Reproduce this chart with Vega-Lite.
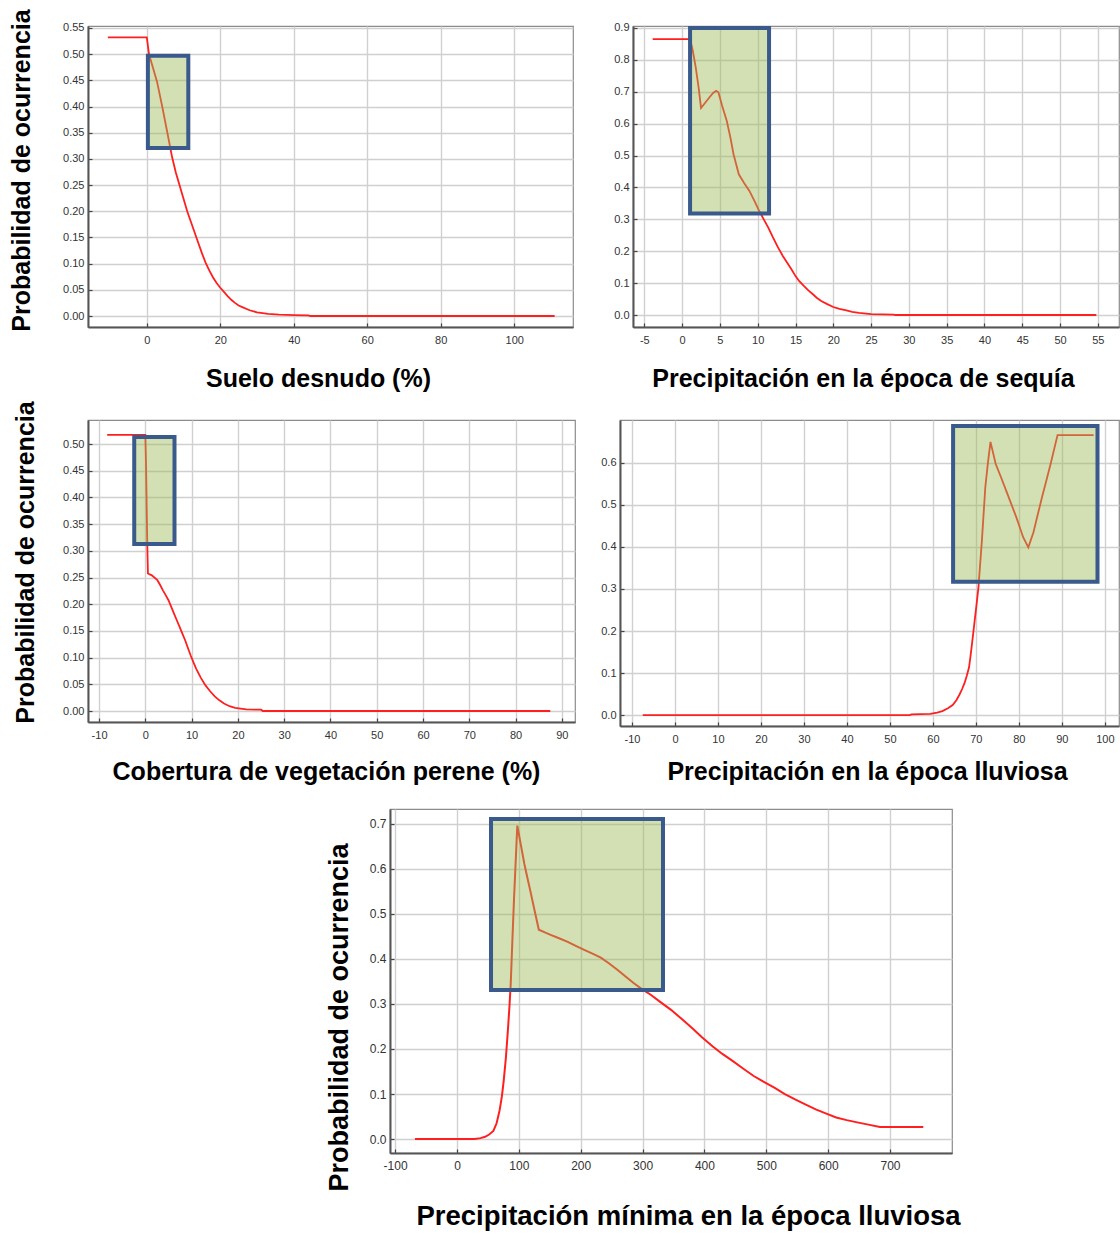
{
  "$schema": "https://vega.github.io/schema/vega-lite/v6.json",
  "background": "white",
  "padding": {"left": 8, "top": 8, "right": 0, "bottom": 0},
  "datasets": {
    "c1": [
      {"x": -10.6, "y": 0.532}, {"x": 0, "y": 0.532}, {"x": 0.6, "y": 0.5}, {"x": 1.6, "y": 0.476}, {"x": 2.8, "y": 0.447},
      {"x": 4.2, "y": 0.4}, {"x": 5.6, "y": 0.35}, {"x": 6.9, "y": 0.303}, {"x": 7.9, "y": 0.274}, {"x": 8.9, "y": 0.25},
      {"x": 10, "y": 0.224}, {"x": 11, "y": 0.2}, {"x": 12, "y": 0.18}, {"x": 13, "y": 0.16}, {"x": 14, "y": 0.14},
      {"x": 15, "y": 0.12}, {"x": 16, "y": 0.102}, {"x": 17, "y": 0.087}, {"x": 18, "y": 0.074}, {"x": 19, "y": 0.063},
      {"x": 20, "y": 0.054}, {"x": 21, "y": 0.046}, {"x": 22, "y": 0.038}, {"x": 23, "y": 0.031}, {"x": 24, "y": 0.025},
      {"x": 25, "y": 0.02}, {"x": 26, "y": 0.017}, {"x": 28, "y": 0.011}, {"x": 30, "y": 0.007}, {"x": 33, "y": 0.004},
      {"x": 36, "y": 0.0025}, {"x": 40, "y": 0.0018}, {"x": 44, "y": 0.0013}, {"x": 44.5, "y": 0}, {"x": 111, "y": 0}
    ],
    "c2": [
      {"x": -3.9, "y": 0.865}, {"x": 1.05, "y": 0.865}, {"x": 1.4, "y": 0.83}, {"x": 1.8, "y": 0.776}, {"x": 2.2, "y": 0.71},
      {"x": 2.5, "y": 0.649}, {"x": 3.0, "y": 0.664}, {"x": 3.6, "y": 0.682}, {"x": 4.1, "y": 0.696}, {"x": 4.5, "y": 0.703},
      {"x": 4.8, "y": 0.698}, {"x": 5.3, "y": 0.655}, {"x": 5.9, "y": 0.609}, {"x": 6.4, "y": 0.555}, {"x": 6.8, "y": 0.504},
      {"x": 7.5, "y": 0.441}, {"x": 8.2, "y": 0.414}, {"x": 8.9, "y": 0.389}, {"x": 9.6, "y": 0.356}, {"x": 10.2, "y": 0.326},
      {"x": 10.8, "y": 0.3}, {"x": 11.4, "y": 0.274}, {"x": 12.0, "y": 0.244}, {"x": 12.7, "y": 0.211}, {"x": 13.3, "y": 0.186},
      {"x": 13.9, "y": 0.164}, {"x": 14.5, "y": 0.142}, {"x": 15, "y": 0.122}, {"x": 15.5, "y": 0.106}, {"x": 16.1, "y": 0.091},
      {"x": 16.7, "y": 0.077}, {"x": 17.3, "y": 0.065}, {"x": 17.8, "y": 0.054}, {"x": 18.4, "y": 0.044}, {"x": 19.2, "y": 0.034},
      {"x": 20, "y": 0.025}, {"x": 20.8, "y": 0.019}, {"x": 21.6, "y": 0.015}, {"x": 22.5, "y": 0.01}, {"x": 23.4, "y": 0.007},
      {"x": 25, "y": 0.003}, {"x": 28, "y": 0.001}, {"x": 28.2, "y": 0}, {"x": 54.8, "y": 0}
    ],
    "c3": [
      {"x": -8.25, "y": 0.517}, {"x": 0, "y": 0.517}, {"x": 0.16, "y": 0.4575}, {"x": 0.4, "y": 0.32}, {"x": 0.56, "y": 0.2575},
      {"x": 1.4, "y": 0.254}, {"x": 2.6, "y": 0.245}, {"x": 3.2, "y": 0.236}, {"x": 3.8, "y": 0.226}, {"x": 4.4, "y": 0.217},
      {"x": 5, "y": 0.2075}, {"x": 5.6, "y": 0.195}, {"x": 6.2, "y": 0.1825}, {"x": 6.8, "y": 0.17}, {"x": 7.4, "y": 0.1575},
      {"x": 8, "y": 0.145}, {"x": 8.6, "y": 0.1325}, {"x": 9.2, "y": 0.118}, {"x": 9.8, "y": 0.104}, {"x": 10.4, "y": 0.091},
      {"x": 11, "y": 0.079}, {"x": 12, "y": 0.062}, {"x": 13, "y": 0.048}, {"x": 14, "y": 0.037}, {"x": 15, "y": 0.0275},
      {"x": 16, "y": 0.02}, {"x": 17, "y": 0.014}, {"x": 18.2, "y": 0.009}, {"x": 19.4, "y": 0.006}, {"x": 21.8, "y": 0.003},
      {"x": 25, "y": 0.0025}, {"x": 25.4, "y": 0}, {"x": 87.5, "y": 0}
    ],
    "c4": [
      {"x": -7.5, "y": 0}, {"x": 54.6, "y": 0}, {"x": 55, "y": 0.0016}, {"x": 59.4, "y": 0.003}, {"x": 61, "y": 0.006},
      {"x": 62.2, "y": 0.0095}, {"x": 63.5, "y": 0.016}, {"x": 64.6, "y": 0.024}, {"x": 65.5, "y": 0.036}, {"x": 66.2, "y": 0.049},
      {"x": 66.8, "y": 0.062}, {"x": 67.4, "y": 0.077}, {"x": 67.9, "y": 0.094}, {"x": 68.4, "y": 0.113}, {"x": 68.7, "y": 0.136},
      {"x": 69, "y": 0.161}, {"x": 69.4, "y": 0.196}, {"x": 69.8, "y": 0.232}, {"x": 70.2, "y": 0.267}, {"x": 70.6, "y": 0.304},
      {"x": 71.4, "y": 0.415}, {"x": 72.2, "y": 0.543}, {"x": 72.8, "y": 0.6}, {"x": 73.4, "y": 0.65}, {"x": 74.6, "y": 0.598},
      {"x": 75.8, "y": 0.567}, {"x": 77, "y": 0.535}, {"x": 78.2, "y": 0.503}, {"x": 79.4, "y": 0.471}, {"x": 81, "y": 0.423},
      {"x": 82.2, "y": 0.399}, {"x": 83.4, "y": 0.435}, {"x": 84.4, "y": 0.477}, {"x": 85.4, "y": 0.519}, {"x": 86.4, "y": 0.558},
      {"x": 87.4, "y": 0.598}, {"x": 89, "y": 0.666}, {"x": 97.4, "y": 0.666}
    ],
    "c5": [
      {"x": -68, "y": 0}, {"x": 28.7, "y": 0}, {"x": 38, "y": 0.002}, {"x": 45.4, "y": 0.005}, {"x": 52, "y": 0.01},
      {"x": 58.8, "y": 0.018}, {"x": 64, "y": 0.035}, {"x": 68.8, "y": 0.063}, {"x": 72.5, "y": 0.094}, {"x": 75.5, "y": 0.129},
      {"x": 79, "y": 0.18}, {"x": 82.2, "y": 0.24}, {"x": 84.6, "y": 0.29}, {"x": 86.8, "y": 0.343}, {"x": 89.5, "y": 0.44},
      {"x": 92.2, "y": 0.534}, {"x": 95, "y": 0.62}, {"x": 97.5, "y": 0.696}, {"x": 103, "y": 0.655}, {"x": 108.9, "y": 0.611},
      {"x": 113.5, "y": 0.582}, {"x": 118.9, "y": 0.549}, {"x": 125.5, "y": 0.507}, {"x": 132.3, "y": 0.465}, {"x": 142, "y": 0.459},
      {"x": 152.3, "y": 0.453}, {"x": 165, "y": 0.446}, {"x": 179, "y": 0.438}, {"x": 192, "y": 0.429}, {"x": 205.7, "y": 0.42},
      {"x": 219, "y": 0.412}, {"x": 232.5, "y": 0.403}, {"x": 246, "y": 0.39}, {"x": 259.2, "y": 0.376}, {"x": 272.5, "y": 0.361},
      {"x": 286, "y": 0.346}, {"x": 299, "y": 0.333}, {"x": 312.6, "y": 0.321}, {"x": 329, "y": 0.304}, {"x": 346, "y": 0.287},
      {"x": 363, "y": 0.267}, {"x": 379.5, "y": 0.247}, {"x": 396, "y": 0.226}, {"x": 413, "y": 0.206}, {"x": 429, "y": 0.189},
      {"x": 446, "y": 0.173}, {"x": 463, "y": 0.156}, {"x": 479.6, "y": 0.14}, {"x": 496, "y": 0.127}, {"x": 513, "y": 0.114},
      {"x": 530, "y": 0.1}, {"x": 546.5, "y": 0.088}, {"x": 563, "y": 0.077}, {"x": 580, "y": 0.066}, {"x": 596, "y": 0.057},
      {"x": 613, "y": 0.048}, {"x": 630, "y": 0.042}, {"x": 647, "y": 0.037}, {"x": 665, "y": 0.032}, {"x": 683.6, "y": 0.027},
      {"x": 753.8, "y": 0.027}
    ],
    "b1": [{"x1": 0.3, "x2": 11.3, "y1": 0.321, "y2": 0.497}],
    "b2": [{"x1": 1.05, "x2": 11.5, "y1": 0.318, "y2": 0.9}],
    "b3": [{"x1": -2.4, "x2": 6.3, "y1": 0.313, "y2": 0.513}],
    "b4": [{"x1": 64.7, "x2": 98.3, "y1": 0.317, "y2": 0.688}],
    "b5": [{"x1": 55, "x2": 333, "y1": 0.331, "y2": 0.711}],
    "empty": []
  },
  "spacing": 23,
  "vconcat": [
    {
      "spacing": 8,
      "vconcat": [
        {
          "bounds": "flush",
          "spacing": 60,
          "hconcat": [
            {
              "width": 485, "height": 301,
              "layer": [
                {
                  "data": {"name": "c1"},
                  "mark": {"type": "line", "color": "#ff1f1f", "strokeWidth": 1.8, "clip": true},
                  "encoding": {
                    "x": {"field": "x", "type": "quantitative", "scale": {"domain": [-16, 116], "nice": false, "zero": false},
                      "axis": {"values": [0, 20, 40, 60, 80, 100], "tickCount": 50, "labelExpr": "'' + datum.value", "title": "Suelo desnudo (%)", "titleX": 230, "titleY": 59}},
                    "y": {"field": "y", "type": "quantitative", "scale": {"domain": [-0.021, 0.5538], "nice": false, "zero": false},
                      "axis": {"values": [0, 0.05, 0.1, 0.15, 0.2, 0.25, 0.3, 0.35, 0.4, 0.45, 0.5, 0.55], "tickCount": 50, "format": ".2f", "title": "Probabilidad de ocurrencia", "titleX": -59, "titleY": 144}}
                  }
                },
                {
                  "data": {"name": "b1"},
                  "mark": {"type": "rect", "fill": "#9bbb59", "fillOpacity": 0.45, "stroke": "#3a5a8c", "strokeWidth": 4},
                  "encoding": {"x": {"field": "x1", "type": "quantitative"}, "x2": {"field": "x2"}, "y": {"field": "y1", "type": "quantitative"}, "y2": {"field": "y2"}}
                }
              ]
            },
            {
              "width": 486, "height": 301,
              "layer": [
                {
                  "data": {"name": "c2"},
                  "mark": {"type": "line", "color": "#ff1f1f", "strokeWidth": 1.8, "clip": true},
                  "encoding": {
                    "x": {"field": "x", "type": "quantitative", "scale": {"domain": [-6.5, 57.8], "nice": false, "zero": false},
                      "axis": {"values": [-5, 0, 5, 10, 15, 20, 25, 30, 35, 40, 45, 50, 55], "tickCount": 50, "labelExpr": "'' + datum.value", "title": "Precipitación en la época de sequía", "titleX": 230, "titleY": 59}},
                    "y": {"field": "y", "type": "quantitative", "scale": {"domain": [-0.0376, 0.906], "nice": false, "zero": false},
                      "axis": {"values": [0, 0.1, 0.2, 0.3, 0.4, 0.5, 0.6, 0.7, 0.8, 0.9], "tickCount": 50, "format": ".1f", "title": null}}
                  }
                },
                {
                  "data": {"name": "b2"},
                  "mark": {"type": "rect", "fill": "#9bbb59", "fillOpacity": 0.45, "stroke": "#3a5a8c", "strokeWidth": 4},
                  "encoding": {"x": {"field": "x1", "type": "quantitative"}, "x2": {"field": "x2"}, "y": {"field": "y1", "type": "quantitative"}, "y2": {"field": "y2"}}
                }
              ]
            }
          ]
        },
        {
          "bounds": "flush",
          "spacing": 45,
          "hconcat": [
            {
              "width": 487, "height": 302,
              "layer": [
                {
                  "data": {"name": "c3"},
                  "mark": {"type": "line", "color": "#ff1f1f", "strokeWidth": 1.8, "clip": true},
                  "encoding": {
                    "x": {"field": "x", "type": "quantitative", "scale": {"domain": [-12.39, 92.84], "nice": false, "zero": false},
                      "axis": {"values": [-10, 0, 10, 20, 30, 40, 50, 60, 70, 80, 90], "tickCount": 50, "labelExpr": "'' + datum.value", "title": "Cobertura de vegetación perene (%)", "titleX": 238, "titleY": 57}},
                    "y": {"field": "y", "type": "quantitative", "scale": {"domain": [-0.0206, 0.545], "nice": false, "zero": false},
                      "axis": {"values": [0, 0.05, 0.1, 0.15, 0.2, 0.25, 0.3, 0.35, 0.4, 0.45, 0.5], "tickCount": 50, "format": ".2f", "title": "Probabilidad de ocurrencia", "titleX": -55, "titleY": 142}}
                  }
                },
                {
                  "data": {"name": "b3"},
                  "mark": {"type": "rect", "fill": "#9bbb59", "fillOpacity": 0.45, "stroke": "#3a5a8c", "strokeWidth": 4},
                  "encoding": {"x": {"field": "x1", "type": "quantitative"}, "x2": {"field": "x2"}, "y": {"field": "y1", "type": "quantitative"}, "y2": {"field": "y2"}}
                }
              ]
            },
            {
              "width": 499, "height": 306,
              "layer": [
                {
                  "data": {"name": "c4"},
                  "mark": {"type": "line", "color": "#ff1f1f", "strokeWidth": 1.8, "clip": true},
                  "encoding": {
                    "x": {"field": "x", "type": "quantitative", "scale": {"domain": [-12.8, 103.3], "nice": false, "zero": false},
                      "axis": {"values": [-10, 0, 10, 20, 30, 40, 50, 60, 70, 80, 90, 100], "tickCount": 50, "labelExpr": "'' + datum.value", "title": "Precipitación en la época lluviosa", "titleX": 247, "titleY": 53}},
                    "y": {"field": "y", "type": "quantitative", "scale": {"domain": [-0.026, 0.702], "nice": false, "zero": false},
                      "axis": {"values": [0, 0.1, 0.2, 0.3, 0.4, 0.5, 0.6], "tickCount": 50, "format": ".1f", "title": null}}
                  }
                },
                {
                  "data": {"name": "b4"},
                  "mark": {"type": "rect", "fill": "#9bbb59", "fillOpacity": 0.45, "stroke": "#3a5a8c", "strokeWidth": 4},
                  "encoding": {"x": {"field": "x1", "type": "quantitative"}, "x2": {"field": "x2"}, "y": {"field": "y1", "type": "quantitative"}, "y2": {"field": "y2"}}
                }
              ]
            }
          ]
        }
      ]
    },
    {
      "bounds": "flush",
      "spacing": 20,
      "hconcat": [
        {"width": 282, "height": 1, "data": {"name": "empty"}, "mark": "point", "encoding": {}, "view": {"stroke": null}},
        {
          "width": 562, "height": 344,
          "layer": [
            {
              "data": {"name": "c5"},
              "mark": {"type": "line", "color": "#ff1f1f", "strokeWidth": 2, "clip": true},
              "encoding": {
                "x": {"field": "x", "type": "quantitative", "scale": {"domain": [-108.3, 800.2], "nice": false, "zero": false},
                  "axis": {"values": [-100, 0, 100, 200, 300, 400, 500, 600, 700], "tickCount": 50, "labelExpr": "'' + datum.value", "labelFontSize": 12, "title": "Precipitación mínima en la época lluviosa", "titleFontSize": 27.5, "titleX": 298, "titleY": 71}},
                "y": {"field": "y", "type": "quantitative", "scale": {"domain": [-0.031, 0.733], "nice": false, "zero": false},
                  "axis": {"values": [0, 0.1, 0.2, 0.3, 0.4, 0.5, 0.6, 0.7], "tickCount": 50, "format": ".1f", "labelFontSize": 12, "title": "Probabilidad de ocurrencia", "titleFontSize": 27, "titleX": -43, "titleY": 208}}
              }
            },
            {
              "data": {"name": "b5"},
              "mark": {"type": "rect", "fill": "#9bbb59", "fillOpacity": 0.45, "stroke": "#3a5a8c", "strokeWidth": 4},
              "encoding": {"x": {"field": "x1", "type": "quantitative"}, "x2": {"field": "x2"}, "y": {"field": "y1", "type": "quantitative"}, "y2": {"field": "y2"}}
            }
          ]
        }
      ]
    }
  ],
  "config": {
    "font": "Liberation Sans",
    "view": {"stroke": "#8c8c8c", "strokeWidth": 1.2},
    "axis": {
      "labelFont": "Liberation Sans",
      "labelFontSize": 11,
      "labelColor": "#333333",
      "labelOverlap": false,
      "gridColor": "#d0d0d0",
      "gridWidth": 1.4,
      "domainColor": "#555555",
      "domainWidth": 2,
      "tickColor": "#444444",
      "tickSize": -4,
      "tickWidth": 1.2,
      "titleFont": "Liberation Sans",
      "titleFontWeight": "bold",
      "titleFontSize": 25,
      "titleColor": "#000000",
      "titleAlign": "center"
    },
    "axisX": {"labelPadding": 11, "titleBaseline": "alphabetic"},
    "axisY": {"labelPadding": 8, "titleAngle": 270, "titleBaseline": "alphabetic"}
  }
}
